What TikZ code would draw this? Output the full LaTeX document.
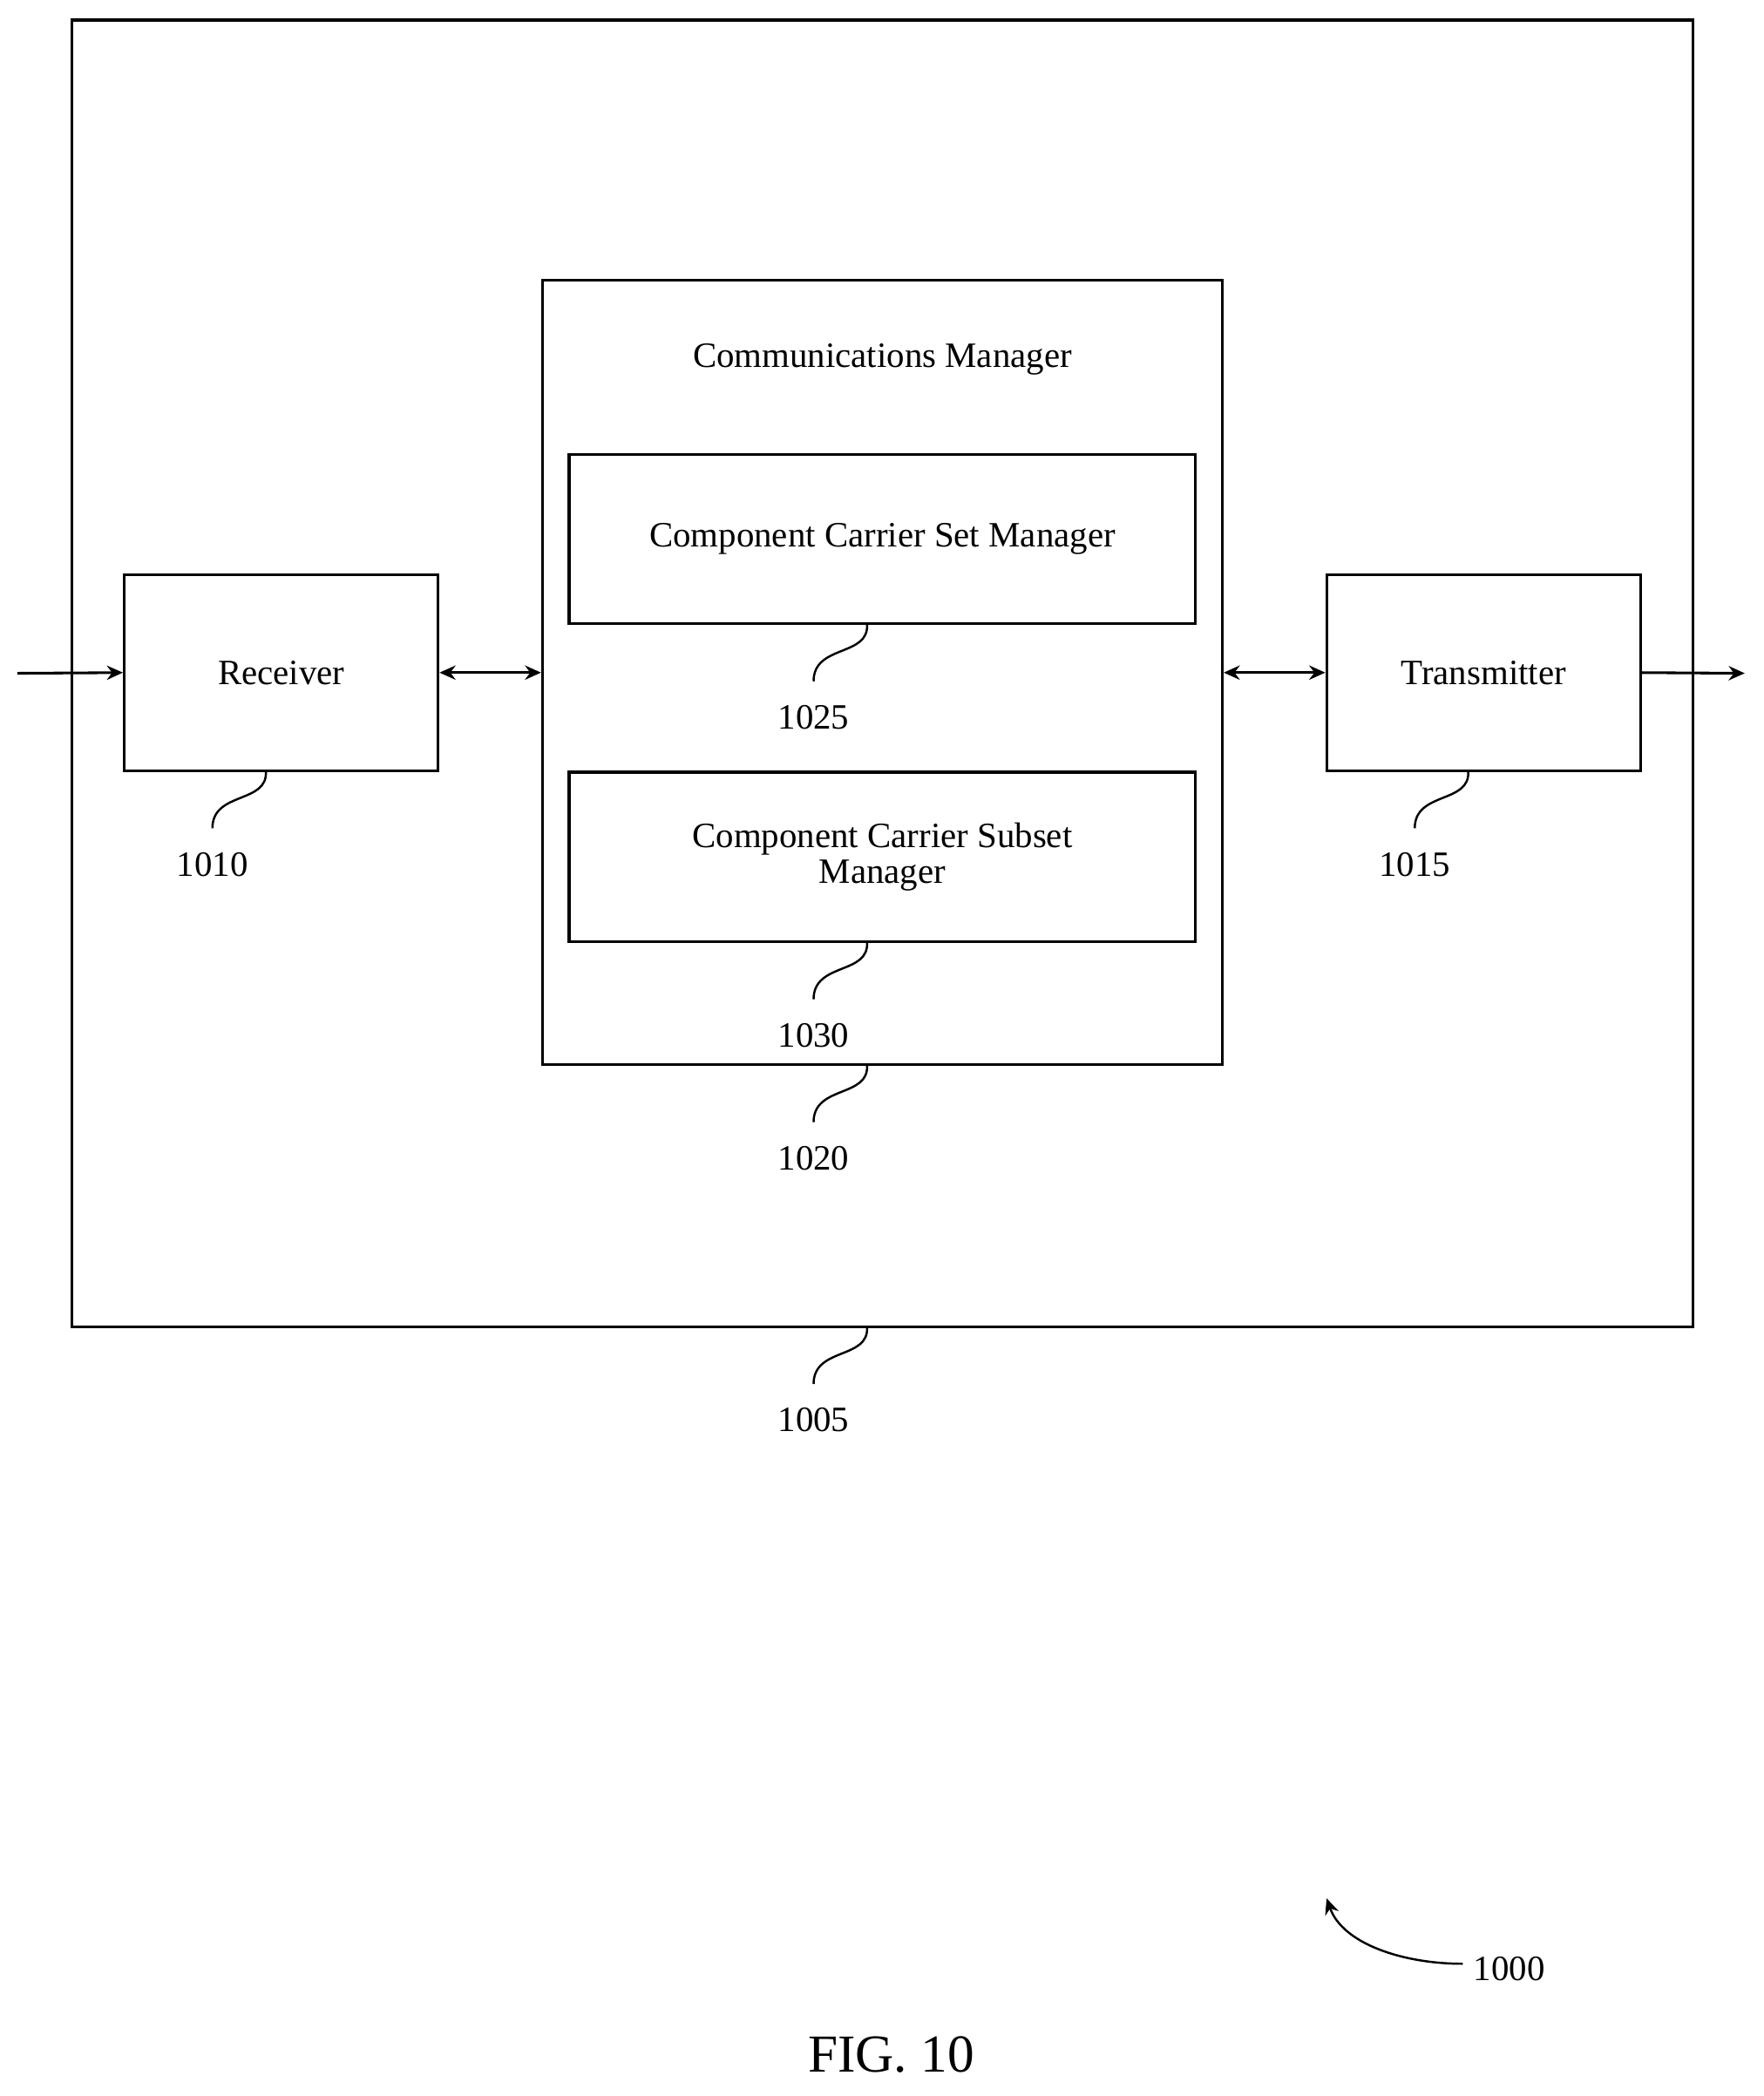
\documentclass[tikz,border=0pt]{standalone}
\usepackage{fontspec}
\setmainfont{Liberation Serif}
\usetikzlibrary{arrows.meta}
\tikzset{every picture/.style={line width=1.5pt}}
\tikzset{blk/.style={draw,line width=1.5pt,inner sep=0pt},
  lbl/.style={inner sep=0.75pt,font=\fontsize{20}{24}\selectfont},
  lead/.style={line width=1.2pt},
  tip/.style={-{Stealth[length=9pt,width=8pt]}},
  dtip/.style={{Stealth[length=9pt,width=8pt]}-{Stealth[length=9pt,width=8pt]}}}

\begin{document}
\begin{tikzpicture}[x=0.75pt,y=0.75pt,yscale=-1,xscale=1]
\useasboundingbox (0,0) rectangle (1320,1569);

% Boxes
\draw [blk] (54,15) rectangle (1267,993);
\node [blk,minimum width=235*0.75pt,minimum height=147*0.75pt] (rx) at (210.5,503.5) {};
\node [blk,minimum width=235*0.75pt,minimum height=147*0.75pt] (tx) at (1110.5,503.5) {};
\node [blk,minimum width=509*0.75pt,minimum height=587*0.75pt] (cm) at (660.5,503.5) {};
\node [blk,minimum width=469*0.75pt,minimum height=127*0.75pt] (cs) at (660.5,403.5) {};
\node [blk,minimum width=469*0.75pt,minimum height=127*0.75pt] (cb) at (660.5,641.5) {};

% Text Node
\node [lbl] at (210.5,503.5) {Receiver};
\node [lbl] at (1110.5,503.5) {Transmitter};
\node [lbl] at (660.5,269) {Communications Manager};
\node [lbl] at (660.5,403.5) {Component Carrier Set Manager};
\node [lbl,align=center] at (660.5,641.5) {Component Carrier Subset\\[-4pt]Manager};

% Arrows
\coordinate (in) at (13,504);
\coordinate (out) at (1306,504);
\draw [tip] (in) -- (rx.west);
\draw [dtip] (rx.east) -- (cm.west);
\draw [dtip] (cm.east) -- (tx.west);
\draw [tip] (tx.east) -- (out);

% Leaders
\foreach \x/\y/\t in {199/577/1010, 1099/577/1015, 649/467/1025, 649/705/1030, 649/797/1020, 649/993/1005}{
  \draw [lead] (\x,\y) .. controls (\x+2,\y+25) and (\x-40,\y+15) .. (\x-40,\y+43);
  \node [lbl] at (\x-40,\y+70) {\t};
}
\draw [lead,tip] (1095,1470) .. controls (1050,1470) and (1005,1455) .. (993,1421);
\node [lbl,anchor=west] at (1101,1474) {1000};
\node [inner sep=0.75pt,font=\fontsize{30}{36}\selectfont] at (667,1538) {FIG. 10};

\end{tikzpicture}
\end{document}
